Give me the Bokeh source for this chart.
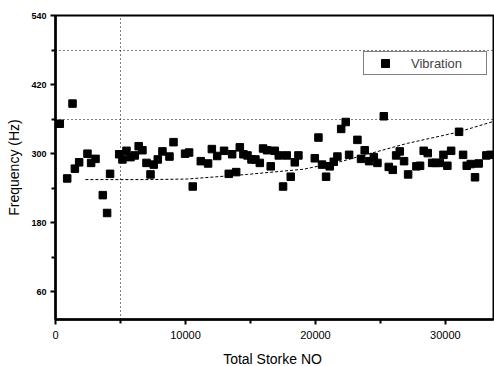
from bokeh.plotting import figure
from bokeh.models import FixedTicker, Range1d, Legend, LegendItem
from bokeh.embed import file_html
from bokeh.resources import INLINE

# ---- data ----
stroke = [330, 900, 1310, 1490, 1820, 2460, 2740, 3080, 3640, 3970, 4200, 4900, 5150, 5460,
          5770, 6100, 6400, 6690, 7000, 7310, 7560, 7870, 8230, 8770, 9080, 9970, 10280, 10560,
          11180, 11740, 12030, 12440, 12970, 13330, 13590, 13900, 14180, 14460, 14770, 15080,
          15380, 15720, 15970, 16280, 16560, 16870, 17180, 17510, 17790, 18100, 18410, 18690,
          19950, 20230, 20510, 20820, 21100, 21410, 21690, 21980, 22330, 22590, 23230, 23510,
          23790, 24130, 24490, 24770, 25260, 25640, 25950, 26210, 26490, 26820, 27130, 27770,
          28050, 28330, 28640, 28980, 29250, 29560, 29850, 30150, 30440, 31050, 31360, 31640,
          31950, 32280, 32560, 33150, 33460]
freq = [352, 257, 387, 274, 285, 300, 284, 291, 228, 197, 265, 299, 290, 305,
        294, 297, 313, 306, 284, 264, 281, 290, 304, 295, 320, 300, 302, 243,
        287, 283, 308, 296, 305, 265, 299, 268, 311, 299, 297, 290,
        290, 284, 309, 306, 278, 305, 297, 243, 297, 260, 285, 297,
        292, 328, 281, 260, 278, 286, 295, 343, 355, 298, 324, 291,
        306, 287, 294, 284, 365, 277, 272, 297, 304, 287, 264, 278,
        279, 305, 301, 284, 284, 284, 298, 279, 305, 338, 298, 279,
        282, 259, 283, 297, 298]

trend_x = [2300, 7300, 10150, 14770, 19080, 21900, 27080, 30900, 33700]
trend_y = [255, 255, 256, 264, 273, 286, 318, 337, 356]

x_ticks = [0, 10000, 20000, 30000]
x_minor = [5000, 15000, 25000]
y_ticks = [60, 180, 300, 420, 540]
y_minor = [120, 240, 360, 480]
x_grid = [5000]
y_grid = [360, 480]

FONT = "Liberation Sans"

p = figure(frame_width=438, frame_height=304, output_backend="svg", toolbar_location=None,
           x_range=Range1d(0, 33700), y_range=Range1d(12, 540),
           min_border_left=55, min_border_right=1, min_border_top=15, min_border_bottom=47)
p.background_fill_color = "white"
p.border_fill_color = "white"
p.outline_line_color = "black"
p.outline_line_width = 2

# grid (dotted reference lines)
p.xgrid.ticker = FixedTicker(ticks=x_grid)
p.ygrid.ticker = FixedTicker(ticks=y_grid)
for g in (p.xgrid, p.ygrid):
    g.grid_line_color = "black"
    g.grid_line_dash = "1 3"
    g.grid_line_width = 1

p.xaxis.ticker = FixedTicker(ticks=x_ticks, minor_ticks=x_minor)
p.yaxis.ticker = FixedTicker(ticks=y_ticks, minor_ticks=y_minor)
p.xaxis.axis_label = "Total Storke  NO"
p.yaxis.axis_label = "Frequency (Hz)"
for ax in (p.xaxis, p.yaxis):
    ax.axis_line_width = 2.5
    ax.axis_line_color = "black"
    ax.major_tick_line_width = 2
    ax.major_tick_line_color = "black"
    ax.minor_tick_line_width = 2
    ax.minor_tick_line_color = "black"
    ax.major_tick_out = 5
    ax.major_tick_in = 0
    ax.minor_tick_out = 4
    ax.minor_tick_in = 0
    ax.major_label_text_font = FONT
    ax.major_label_text_color = "black"
    ax.axis_label_text_font = FONT
    ax.axis_label_text_font_style = "normal"
    ax.axis_label_text_color = "black"
p.xaxis.major_label_text_font_size = "11px"
p.yaxis.major_label_text_font_size = "9px"
p.yaxis.major_label_text_font_style = "bold"
p.xaxis.axis_label_text_font_size = "14px"
p.yaxis.axis_label_text_font_size = "14px"
p.xaxis.major_label_standoff = 6
p.yaxis.major_label_standoff = 4
p.xaxis.axis_label_standoff = 9
p.yaxis.axis_label_standoff = 6

p.line(trend_x, trend_y, line_color="black", line_dash="3 2", line_width=1)
pts = p.scatter(stroke, freq, marker="square", size=7.5, fill_color="black", line_color="black")

legend = Legend(items=[LegendItem(label="Vibration", renderers=[pts])],
                location=(308, 244), padding=1, margin=0, spacing=0,
                glyph_width=40, glyph_height=20, label_standoff=6, label_width=74,
                label_text_font=FONT, label_text_font_size="13px",
                border_line_color="black", border_line_width=1.2,
                background_fill_color="white", background_fill_alpha=1)
p.add_layout(legend)

open("out.html", "w").write(file_html(p, INLINE))
